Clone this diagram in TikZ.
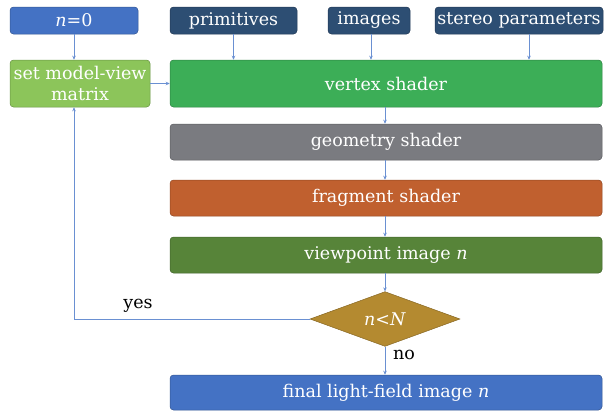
\documentclass[tikz,border=0pt]{standalone}
\usepackage{fontspec}
\setmainfont{DejaVu Serif}
\usetikzlibrary{shapes.geometric,arrows.meta}
\definecolor{cblue}{HTML}{4472C4}
\definecolor{cnavy}{HTML}{2D4E73}
\definecolor{clgreen}{HTML}{8CC55A}
\definecolor{cgreen}{HTML}{3CAE57}
\definecolor{cgray}{HTML}{7A7B80}
\definecolor{corange}{HTML}{C0602F}
\definecolor{cdgreen}{HTML}{578439}
\definecolor{cgold}{HTML}{B48A30}
\definecolor{cline}{HTML}{6A90D2}
\tikzset{
  box/.style={rectangle, rounded corners=3.5pt, draw=#1!75!black, line width=0.5pt, fill=#1,
    text=white, inner sep=0pt, align=center, font=\fontsize{17.5}{21}\selectfont},
  conn/.style={draw=cline, line width=0.8pt, -{Stealth[length=4pt,width=3.5pt]}},
  lbl/.style={text=black, font=\fontsize{17.5}{21}\selectfont, inner sep=0pt}
}
\begin{document}
\begin{tikzpicture}[x=1pt,y=-1pt]
\useasboundingbox (0,0) rectangle (607,415);
\node[box=cblue, minimum width=128pt, minimum height=27pt] (n0) at (74,20.5) {\textit{n}=0};
\node[box=cnavy, minimum width=127pt, minimum height=27pt] (prim) at (233.5,20.5) {primitives};
\node[box=cnavy, minimum width=82pt, minimum height=27pt] (img) at (369,20.5) {images};
\node[box=cnavy, minimum width=168pt, minimum height=27pt] (stereo) at (519,20.5) {stereo parameters};
\node[box=clgreen, minimum width=140pt, minimum height=47pt] (setmv) at (80,83.5) {set model-view\\matrix};
\node[box=cgreen, minimum width=432pt, minimum height=47pt] (vertex) at (386,83.5) {vertex shader};
\node[box=cgray, minimum width=432pt, minimum height=36pt] (geom) at (386,142) {geometry shader};
\node[box=corange, minimum width=432pt, minimum height=36pt] (frag) at (386,198) {fragment shader};
\node[box=cdgreen, minimum width=432pt, minimum height=36pt] (view) at (386,255) {viewpoint image \textit{n}};
\node[diamond, draw=cgold!75!black, line width=0.5pt, fill=cgold, text=white, inner sep=0pt,
  minimum width=150pt, minimum height=45pt, font=\fontsize{17.5}{21}\selectfont] (dec) at (385,319) {\textit{n}<\textit{N}};
\node[box=cblue, minimum width=432pt, minimum height=35pt] (final) at (386,392.5) {final light-field image \textit{n}};
\coordinate (corner) at (74,319);
\node[lbl] (yes) at (138,306) {yes};
\node[lbl] (no) at (404,355) {no};
\draw[conn] (n0.south) -- (n0.south |- setmv.north);
\draw[conn] (prim.south) -- (prim.south |- vertex.north);
\draw[conn] ([xshift=2pt]img.south) -- ([xshift=2pt]img.south |- vertex.north);
\draw[conn] ([xshift=10pt]stereo.south) -- ([xshift=10pt]stereo.south |- vertex.north);
\draw[conn] (setmv.east) -- (vertex.west);
\draw[conn] (vertex.south -| dec.north) -- (geom.north -| dec.north);
\draw[conn] (geom.south -| dec.north) -- (frag.north -| dec.north);
\draw[conn] (frag.south -| dec.north) -- (view.north -| dec.north);
\draw[conn] (view.south -| dec.north) -- (dec.north);
\draw[conn] (dec.south) -- (dec.south |- final.north);
\draw[conn] (dec.west) -- (corner) -- (corner |- setmv.south);
\end{tikzpicture}
\end{document}
